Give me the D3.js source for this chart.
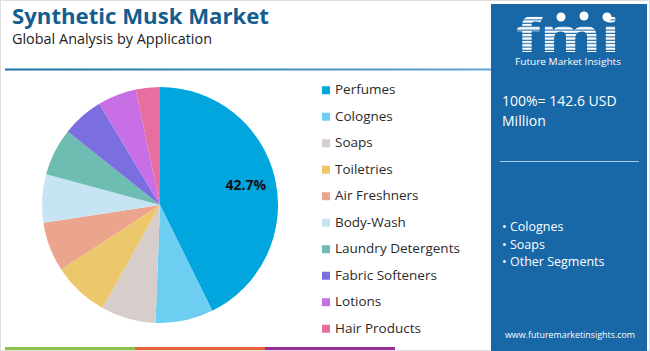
<!DOCTYPE html>
<html>
<head>
<meta charset="utf-8">
<script src="https://cdn.jsdelivr.net/npm/d3@7"></script>
<style>
  body { margin: 0; background: #fff; }
  text { font-family: "Open Sans", "Noto Sans", sans-serif; }
</style>
</head>
<body>
<div id="chart"></div>
<script>
// Data
const categories = ["Perfumes", "Colognes", "Soaps", "Toiletries", "Air Freshners",
    "Body-Wash", "Laundry Detergents", "Fabric Softeners", "Lotions", "Hair Products"];
const shares = [42.7, 7.9, 7.5, 7.7, 6.8, 6.6, 6.5, 5.7, 5.3, 3.3];
const colors = ["#00a6dd", "#6ecef2", "#d7cdca", "#edc76b", "#eca58d",
    "#c7e4f5", "#6ebdb3", "#7b6ee0", "#c96fe6", "#e76fa0"];
const highlights = ["Colognes", "Soaps", "Other Segments"];
const bottomBar = ["#8bc34a", "#e8633a", "#9b2f8f"];

const W = 650, H = 351;
const svg = d3.select("#chart").append("svg")
    .attr("width", W).attr("height", H);
const defs = svg.append("defs");

// frame
svg.append("rect").attr("x", 0.5).attr("y", 0.5).attr("width", W - 1).attr("height", H - 1)
    .attr("fill", "#fff").attr("stroke", "#dedede");

// Title
svg.append("text").attr("x", 12).attr("y", 24)
    .attr("font-size", 22).attr("font-weight", 700).attr("fill", "#135d8f")
    .attr("textLength", 257).attr("lengthAdjust", "spacingAndGlyphs")
    .text("Synthetic Musk Market");
svg.append("text").attr("x", 12).attr("y", 43.5)
    .attr("font-size", 14).attr("fill", "#222")
    .attr("textLength", 200).attr("lengthAdjust", "spacingAndGlyphs")
    .text("Global Analysis by Application");

const grad = defs.append("linearGradient").attr("id", "rule");
grad.append("stop").attr("offset", "0%").attr("stop-color", "#1c6fa6");
grad.append("stop").attr("offset", "100%").attr("stop-color", "#5ea6d4");
svg.append("rect").attr("x", 5).attr("y", 68.5).attr("width", 487).attr("height", 2)
    .attr("fill", "url(#rule)");

// Pie
const cx = 160, cy = 205, r = 118;
const pie = d3.pie().sort(null).value(d => d);
const arc = d3.arc().innerRadius(0).outerRadius(r);
const labelArc = d3.arc().innerRadius(88).outerRadius(88);
const g = svg.append("g").attr("transform", `translate(${cx},${cy})`);
const arcs = pie(shares);
g.selectAll("path").data(arcs).enter().append("path")
    .attr("d", arc)
    .attr("fill", (d, i) => colors[i]);
g.append("text")
    .attr("transform", `translate(${labelArc.centroid(arcs[0])})`)
    .attr("text-anchor", "middle").attr("dy", "0.35em")
    .attr("font-size", 14).attr("font-weight", 700).attr("fill", "#111")
    .text(shares[0].toFixed(1) + "%");

// Legend
const ly = d3.scaleBand().domain(categories).range([76, 341]);
const legend = svg.append("g");
const item = legend.selectAll("g").data(categories).enter().append("g")
    .attr("transform", d => `translate(322,${ly(d) + ly.bandwidth() / 2})`);
item.append("rect").attr("x", 0).attr("y", -3).attr("width", 8).attr("height", 8)
    .attr("fill", (d, i) => colors[i]);
item.append("text").attr("x", 13).attr("y", 5)
    .attr("font-size", 13.5).attr("fill", "#2b2b2b").text(d => d);

// Bottom colour bar
const bx = d3.scaleBand().domain(d3.range(bottomBar.length)).range([5, 395]);
svg.selectAll(".bb").data(bottomBar).enter().append("rect")
    .attr("x", (d, i) => bx(i)).attr("y", 347).attr("width", bx.bandwidth()).attr("height", 3)
    .attr("fill", d => d);

// Right panel
const px = 491;
svg.append("rect").attr("x", px).attr("y", 4).attr("width", 156).attr("height", 347)
    .attr("fill", "#1867a7");

// fmi logo (striped white letters)
const pat = defs.append("pattern").attr("id", "stripes")
    .attr("patternUnits", "userSpaceOnUse").attr("width", 8).attr("height", 3.4);
pat.append("rect").attr("width", 8).attr("height", 2.3).attr("fill", "#fff");
const logo = svg.append("g");
logo.append("text").attr("x", 568).attr("y", 52).attr("text-anchor", "middle")
    .attr("font-family", "DejaVu Serif").attr("font-size", 46).attr("font-weight", 700)
    .attr("fill", "url(#stripes)")
    .attr("textLength", 104).attr("lengthAdjust", "spacingAndGlyphs")
    .text("fmi");
[[561, 17], [584, 16], [607, 17]].forEach(p => {
    logo.append("circle").attr("cx", p[0]).attr("cy", p[1]).attr("r", 4.5)
        .attr("fill", "#fff");
});
logo.append("text").attr("x", 568).attr("y", 65).attr("text-anchor", "middle")
    .attr("font-size", 9.5).attr("fill", "#fff")
    .attr("textLength", 106).attr("lengthAdjust", "spacingAndGlyphs")
    .text("Future Market Insights");

svg.append("text").attr("x", 502).attr("y", 106)
    .attr("font-size", 14).attr("fill", "#fff").text("100%= 142.6 USD");
svg.append("text").attr("x", 502).attr("y", 126)
    .attr("font-size", 14).attr("fill", "#fff").text("Million");
svg.append("line").attr("x1", 500).attr("x2", 639).attr("y1", 161.5).attr("y2", 161.5)
    .attr("stroke", "#a9c8e2").attr("stroke-width", 1);

svg.selectAll(".hl").data(highlights).enter().append("text")
    .attr("x", 502).attr("y", (d, i) => 231 + i * 17.5)
    .attr("font-size", 12.5).attr("fill", "#fff").text(d => "• " + d);

svg.append("text").attr("x", 570).attr("y", 338).attr("text-anchor", "middle")
    .attr("font-size", 9.5).attr("fill", "#fff")
    .attr("textLength", 130).attr("lengthAdjust", "spacingAndGlyphs")
    .text("www.futuremarketinsights.com");
</script>
</body>
</html>
